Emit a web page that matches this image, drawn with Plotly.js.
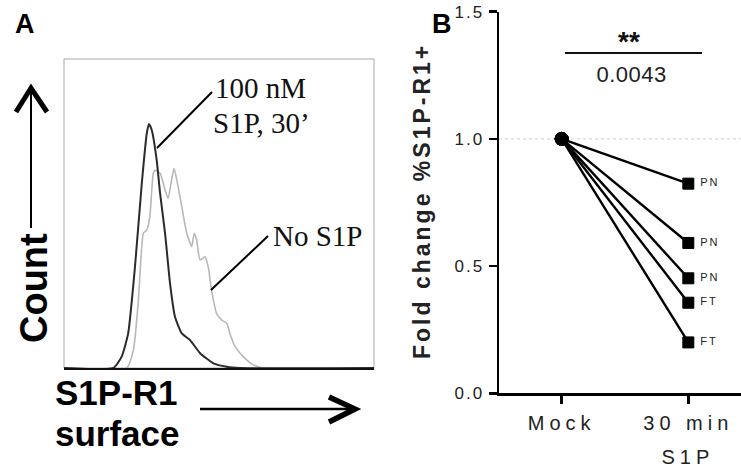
<!DOCTYPE html>
<html>
<head>
<meta charset="utf-8">
<script src="https://cdn.plot.ly/plotly-3.0.1.min.js"></script>
<style>
  html, body { margin: 0; padding: 0; background: #fff; }
  #chart { width: 741px; height: 472px; }
  .annotation[data-index="10"] text { letter-spacing: 3px; }
  .annotation[data-index="11"] text { letter-spacing: 5px; }
  .annotation[data-index="9"] text { letter-spacing: 0.5px; }
  .x2tick text { letter-spacing: 5px; }
  .y2tick text { letter-spacing: 2px; }
  .textpoint text { letter-spacing: 2px; transform: translateX(4px); }
</style>
</head>
<body>
<div id="chart"></div>
<script>
// ---------- Panel A: flow histogram (arbitrary fluorescence units / % of max count) ----------
const fluorTreated = [0, 159, 186, 207, 229, 251, 267, 274, 283, 299, 310, 326, 342, 358, 380, 406, 439, 482, 525, 568, 1000];
const countTreated = [0, 0, 3.7, 11.2, 32.8, 59.8, 75.9, 79, 77, 67.3, 56.5, 43.6, 27.4, 16.6, 11.2, 9.1, 4.8, 1.5, 0.4, 0, 0];

const fluorNoS1P = [0, 202, 224, 240, 256, 267, 277, 288, 294, 310, 326, 336, 347, 355, 364, 380, 396, 412, 420, 428, 439, 455, 465, 476, 492, 509, 525, 535, 552, 578, 611, 643, 1000];
const countNoS1P = [0, 0, 5.8, 22, 43.6, 44.7, 49, 63, 64, 63, 57.6, 54.9, 60.8, 64.6, 60.8, 52.2, 43.6, 39.3, 43.6, 41.4, 35, 36, 32.8, 25.2, 17.7, 15.5, 14.5, 11.2, 6.9, 3.7, 1, 0, 0];

// ---------- Panel B: paired fold change ----------
const conditions = ['Mock', '30 min'];
const conditionSubLabel = 'S1P';
const mockValues = [1.0, 1.0, 1.0, 1.0, 1.0];
const s1pValues = [0.824, 0.591, 0.452, 0.356, 0.200];
const donorTypes = ['PN', 'PN', 'PN', 'FT', 'FT'];
const yTickVals = [0, 0.5, 1.0, 1.5];
const yTickText = ['0.0', '0.5', '1.0', '1.5'];
const pValueText = '0.0043';

const W = 741, H = 472;
const px = x => x / W;
const py = y => 1 - y / H;

const SANS = 'Liberation Sans, Arial, sans-serif';
const SERIF = 'Liberation Serif, Times New Roman, serif';

const traces = [
  { x: fluorNoS1P, y: countNoS1P, xaxis: 'x', yaxis: 'y', mode: 'lines',
    line: { color: '#b8b8b8', width: 1.6, shape: 'spline', smoothing: 0.5 }, hoverinfo: 'skip' },
  { x: fluorTreated, y: countTreated, xaxis: 'x', yaxis: 'y', mode: 'lines',
    line: { color: '#2b2b2b', width: 2, shape: 'spline', smoothing: 0.5 }, hoverinfo: 'skip' }
];

for (let i = 0; i < s1pValues.length; i++) {
  traces.push({
    x: [0, 1], y: [mockValues[i], s1pValues[i]], xaxis: 'x2', yaxis: 'y2',
    mode: 'lines+markers+text',
    text: ['', donorTypes[i]],
    textposition: 'middle right',
    textfont: { family: SANS, size: 11, color: '#222' },
    line: { color: '#000', width: 2.4 },
    marker: { color: '#000', symbol: ['circle', 'square'], size: [13, 11], opacity: 1,
              line: { color: '#000', width: 1 } },
    cliponaxis: false,
    hoverinfo: 'skip'
  });
}

function ann(text, x, y, size, opts) {
  return Object.assign({ text: text, xref: 'paper', yref: 'paper', x: x, y: y,
    xanchor: 'center', yanchor: 'middle', showarrow: false,
    font: { family: SANS, size: size, color: '#000' } }, opts || {});
}

const layout = {
  width: W, height: H,
  margin: { l: 0, r: 0, t: 0, b: 0 },
  paper_bgcolor: '#fff', plot_bgcolor: 'rgba(0,0,0,0)',
  showlegend: false,
  xaxis: { domain: [px(64), px(374)], range: [0, 1000], showline: true, linecolor: '#111', linewidth: 1.6,
           showgrid: false, zeroline: false, showticklabels: false, ticks: '', fixedrange: true },
  yaxis: { domain: [py(368), py(59)], range: [0, 100], showline: false,
           showgrid: false, zeroline: false, showticklabels: false, ticks: '', fixedrange: true },
  xaxis2: { domain: [px(499), 1], range: [-0.495, 1.416], anchor: 'y2',
            tickvals: [0, 1], ticktext: conditions,
            showline: true, linecolor: '#000', linewidth: 2.5,
            ticks: 'outside', ticklen: 8, tickwidth: 2.5, tickcolor: '#000',
            ticklabelstandoff: 2,
            tickfont: { family: SANS, size: 20, color: '#222' },
            showgrid: false, zeroline: false, fixedrange: true },
  yaxis2: { domain: [py(393.3), py(11.7)], range: [0, 1.5], anchor: 'x2',
            tickvals: yTickVals, ticktext: yTickText,
            showline: true, linecolor: '#000', linewidth: 2.5,
            ticks: 'outside', ticklen: 8, tickwidth: 2.5, tickcolor: '#000',
            ticklabelstandoff: 1,
            tickfont: { family: SANS, size: 17, color: '#222' },
            showgrid: false, zeroline: false, fixedrange: true },
  shapes: [
    // Panel A frame
    { type: 'rect', xref: 'x domain', yref: 'y domain', x0: 0, x1: 1, y0: 0, y1: 1,
      line: { color: '#a8a8a8', width: 1 }, layer: 'below' },
    // Count arrow
    { type: 'line', xref: 'paper', yref: 'paper', x0: px(31), x1: px(31), y0: py(228), y1: py(89),
      line: { color: '#000', width: 2 } },
    { type: 'path', xref: 'paper', yref: 'paper',
      path: 'M ' + px(16) + ' ' + py(112) + ' L ' + px(31) + ' ' + py(88) + ' L ' + px(47) + ' ' + py(112),
      line: { color: '#000', width: 5 } },
    // Surface arrow
    { type: 'line', xref: 'paper', yref: 'paper', x0: px(200), x1: px(354), y0: py(409), y1: py(409),
      line: { color: '#000', width: 2.5 } },
    { type: 'path', xref: 'paper', yref: 'paper',
      path: 'M ' + px(329) + ' ' + py(397) + ' L ' + px(355) + ' ' + py(409) + ' L ' + px(329) + ' ' + py(422),
      line: { color: '#000', width: 5.5 } },
    // Pointer lines
    { type: 'line', xref: 'paper', yref: 'paper', x0: px(157), x1: px(212), y0: py(148), y1: py(92),
      line: { color: '#000', width: 2 } },
    { type: 'line', xref: 'paper', yref: 'paper', x0: px(211), x1: px(268), y0: py(290), y1: py(236),
      line: { color: '#000', width: 2 } },
    // Reference line at 1.0 (dotted)
    { type: 'line', xref: 'x2 domain', yref: 'y2', x0: 0, x1: 1, y0: 1, y1: 1,
      line: { color: '#d8d8d8', width: 1.2, dash: 'dot' }, layer: 'below' },
    // Significance bar
    { type: 'line', xref: 'paper', yref: 'paper', x0: px(565), x1: px(702), y0: py(53), y1: py(53),
      line: { color: '#111', width: 2.2 } }
  ],
  annotations: [
    ann('<b>A</b>', px(25), py(24), 27),
    ann('<b>B</b>', px(442), py(24), 27),
    ann('<b>Count</b>', px(34), py(288), 38, { textangle: -90 }),
    ann('<b>S1P-R1</b>', px(53), py(392), 35, { xanchor: 'left' }),
    ann('<b>surface</b>', px(53), py(433), 35, { xanchor: 'left' }),
    ann('100 nM', px(213), py(88), 29, { xanchor: 'left', font: { family: SERIF, size: 29, color: '#111' } }),
    ann('S1P, 30\u2019', px(211), py(123), 29, { xanchor: 'left', font: { family: SERIF, size: 29, color: '#111' } }),
    ann('No S1P', px(271), py(236), 29, { xanchor: 'left', font: { family: SERIF, size: 29, color: '#111' } }),
    ann('<b>**</b>', px(629), py(42), 28, { font: { family: SANS, size: 28, color: '#111' } }),
    ann(pValueText, px(631), py(74), 22, { font: { family: SANS, size: 22, color: '#222' } }),
    ann('<b>Fold change %S1P-R1+</b>', px(422), py(201), 23, { textangle: -90, font: { family: SANS, size: 23, color: '#222' } }),
    ann(conditionSubLabel, 1, py(457), 20, { xref: 'x2', font: { family: SANS, size: 20, color: '#222' } })
  ]
};

Plotly.newPlot('chart', traces, layout, { staticPlot: true, displayModeBar: false });
</script>
</body>
</html>
